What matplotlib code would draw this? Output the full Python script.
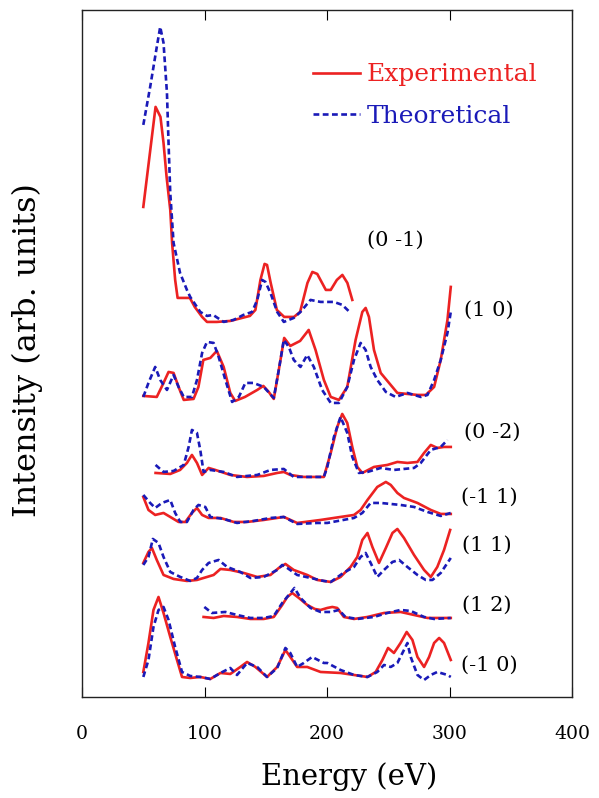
import matplotlib.pyplot as plt
import numpy as np

plt.rcParams['font.family'] = ['DejaVu Serif']

# beam labels and vertical offsets of each stacked I-V curve
beams = ["(0 -1)", "(1 0)", "(0 -2)", "(-1 1)", "(1 1)", "(1 2)", "(-1 0)"]
offsets = [375, 294, 219, 175, 115, 77, 17]

# (0 -1)
exp01_E = [50, 60, 64, 66.5, 69, 72, 73.5, 76, 78, 88, 92, 98, 102, 110, 121, 137, 141.5, 145.6, 149, 151, 154, 159, 165, 173, 178, 184, 188, 192, 199, 203, 208, 212.5, 216.6, 220.6]
exp01_I = [115, 215, 205, 179, 145, 112, 79, 42, 24, 24, 15, 5, 0, 0, 1, 6, 12, 42, 58, 57, 39, 12, 5, 5, 10, 39, 50, 48, 32, 32, 42, 47, 39, 22]
th01_E = [50, 55.6, 61, 63.8, 66.5, 69.3, 70.6, 72, 74.7, 80, 85.6, 88.3, 96.5, 102, 107, 115.6, 123.7, 131.7, 138.8, 143, 147, 149.7, 153.8, 159.3, 164.7, 172.8, 178.3, 186.5, 194.7, 205.6, 212.5, 219.2]
th01_I = [197, 235, 275, 295, 279, 229, 179, 129, 79, 49, 32, 25, 10, 6, 7, 0, 2, 7, 10, 22, 42, 40, 29, 10, 0, 4, 10, 22, 20, 20, 17, 9]

# (1 0)
exp10_E = [50, 61, 66.5, 70.6, 74.7, 78.8, 83, 91, 95, 99, 104.7, 110, 115.6, 121, 125, 133, 143, 148, 152.4, 156.5, 160.6, 165, 170, 178, 185, 190.6, 197.4, 203, 209.7, 216.5, 223.3, 228.8, 231.5, 234.2, 238.3, 243.8, 250.6, 257.4, 265.6, 273.8, 280.6, 287.4, 292.8, 298.3, 301]
exp10_I = [7, 6, 20, 31, 30, 16, 3, 4, 16, 43, 45, 52, 36, 10, 2, 6, 13, 17, 11, 4, 33, 65, 57, 62, 73, 53, 23, 6, 3, 16, 63, 91, 95, 86, 53, 30, 20, 10, 9, 8, 8, 16, 43, 83, 116]
th10_E = [50, 54.2, 59.7, 63.8, 69.3, 74.7, 78.8, 83, 89.7, 93.8, 98, 102, 107.4, 111.5, 117, 122.5, 128, 133.3, 140, 148.3, 156.5, 160.6, 164.7, 168.8, 172.8, 178.3, 183.8, 189.2, 196, 203, 209.7, 216.5, 222, 227.4, 231.5, 235.6, 241, 248, 256, 265.6, 276.5, 282, 287.4, 292.8, 298.3, 301]
th10_I = [6, 20, 36, 23, 13, 28, 16, 6, 6, 23, 50, 61, 60, 46, 23, 1, 6, 20, 20, 16, 5, 33, 63, 56, 43, 36, 48, 36, 13, 0, 0, 16, 43, 60, 53, 36, 23, 11, 6, 10, 6, 8, 23, 43, 70, 91]

# (0 -2)
exp02_E = [60, 72, 80, 85.6, 89.7, 93.8, 98, 103.3, 108.8, 121, 134.7, 148.3, 159.3, 164.7, 170, 181, 197.4, 203, 208.3, 212.4, 216.5, 220.6, 224.7, 228.8, 238.3, 249.2, 257.4, 265.6, 273.8, 279.2, 284.7, 290, 295.5, 301]
exp02_I = [5, 4, 8, 15, 23, 15, 3, 10, 8, 3, 1, 2, 5, 6, 3, 1, 1, 25, 51, 64, 55, 31, 11, 5, 11, 13, 16, 15, 16, 25, 33, 30, 31, 31]
th02_E = [60, 66.5, 74.7, 83, 87, 89.7, 93.8, 96.5, 99.2, 104.7, 115.6, 126.5, 143, 153.8, 164.7, 172.8, 186.5, 197.4, 200.2, 205.6, 211, 216.5, 220.6, 226, 233, 243.8, 254.6, 271, 276.5, 284.7, 292.8, 298.3]
th02_I = [13, 6, 7, 13, 31, 48, 45, 28, 6, 8, 6, 1, 3, 8, 9, 1, 1, 1, 11, 41, 61, 45, 21, 5, 6, 10, 8, 10, 15, 28, 31, 38]

# (-1 1)
exm11_E = [50, 54.2, 59.7, 66.5, 72, 78.8, 84.3, 89.7, 93.8, 98, 103.3, 113, 123.8, 134.7, 148.3, 164.7, 175.6, 194.7, 211, 222, 227.4, 233, 241, 248, 252, 257.4, 262.8, 273.8, 284.7, 292.8, 301]
exm11_I = [25, 12, 7, 9, 5, 0, 0, 9, 14, 7, 4, 4, 0, 0, 2, 5, -1, 2, 5, 7, 12, 22, 35, 40, 37, 29, 24, 19, 12, 8, 8]
thm11_E = [50, 55.6, 59.7, 65.2, 72, 76, 80.2, 85.6, 91, 95, 100.6, 104.7, 115.6, 126.5, 140, 153.8, 164.7, 175.6, 192, 200.2, 222, 228.8, 235.6, 243.8, 260, 271, 282, 292.8, 301]
thm11_I = [27, 19, 14, 19, 22, 9, 0, 0, 12, 17, 15, 5, 3, -1, 1, 4, 5, -2, -1, -1, 4, 9, 19, 19, 17, 15, 10, 6, 9]

# (1 1)
exp11_E = [50, 54.2, 57, 61, 66.5, 74.7, 85.6, 93.8, 102, 107.4, 113, 121, 132, 143, 153.8, 160.6, 166, 172.8, 183.8, 192, 203, 211, 219.2, 224.7, 228.8, 233, 237, 242.4, 248, 253.4, 257.4, 262.8, 271, 279.2, 284.7, 290, 295.5, 300.5]
exp11_I = [19, 30, 34, 22, 7, 3, 1, 2, 5, 7, 13, 12, 9, 5, 7, 14, 18, 12, 7, 2, 0, 5, 15, 25, 42, 49, 35, 19, 34, 49, 53, 44, 27, 12, 5, 15, 32, 52]
th11_E = [50, 54.2, 57.8, 62.4, 66.5, 72, 80.2, 88.3, 93.8, 98, 103.3, 111.5, 118.4, 129.2, 137.4, 148.3, 159.3, 163.4, 167.5, 175.6, 186.5, 197.4, 203, 213.3, 222, 227.4, 231.5, 235.6, 241, 246.5, 253.4, 258.8, 265.6, 273.8, 280.6, 286, 292.8, 301]
th11_I = [17, 25, 43, 39, 25, 10, 5, 1, 4, 12, 19, 22, 15, 10, 4, 5, 12, 17, 14, 7, 4, 1, 0, 9, 15, 25, 29, 19, 5, 12, 20, 22, 15, 7, 2, 2, 9, 24]

# (1 2)
exp12_E = [99.2, 107.4, 115.6, 126.5, 137.4, 148.3, 156.5, 163.4, 167.5, 171.6, 177, 183.8, 190, 194.7, 200.2, 204.3, 208.3, 213.7, 222, 233, 246.5, 260, 271, 282, 301]
exp12_I = [3, 2, 4, 3, 1, 1, 3, 15, 23, 27, 22, 15, 11, 10, 12, 13, 12, 3, 1, 3, 7, 8, 5, 2, 2]
th12_E = [99.8, 106, 117, 126.5, 137.4, 148.3, 156.5, 163.4, 168.8, 173.4, 178.3, 186.5, 194.7, 203, 209.7, 215, 224.7, 238.3, 249.2, 260, 268.3, 279.2, 287.4, 301]
th12_I = [13, 7, 8, 5, 2, 2, 4, 17, 25, 32, 22, 12, 8, 8, 10, 3, 1, 3, 7, 10, 9, 3, 1, 2]

# (-1 0)
exm10_E = [50, 54.2, 58.3, 62.4, 66.5, 72, 77.5, 81.6, 88.3, 96.5, 104.7, 113, 121, 129.2, 134.7, 141.5, 151, 159.3, 166, 170, 175.6, 183.8, 194.7, 211, 222, 233, 239.7, 245.2, 249.8, 254.6, 260, 265, 269.7, 273.8, 279.2, 283.3, 287.4, 291.5, 295.5, 301]
exm10_I = [8, 37, 70, 83, 67, 43, 20, 3, 2, 3, 1, 7, 6, 13, 18, 13, 3, 13, 30, 23, 13, 13, 8, 7, 5, 3, 8, 20, 32, 27, 37, 48, 40, 23, 13, 23, 37, 42, 37, 20]
thm10_E = [50, 54.2, 58.3, 62.4, 66.5, 70.6, 76, 81.6, 88.3, 96.5, 104.7, 113, 121, 126.5, 134.7, 143, 151, 159.3, 166, 170, 175.6, 181, 187.8, 197.4, 200.2, 211, 222, 233, 241, 246.5, 252, 257.4, 262.8, 265.6, 268.3, 273.8, 279.2, 284.7, 290, 298.3, 301]
thm10_I = [3, 20, 53, 70, 73, 60, 33, 8, 4, 3, 1, 7, 12, 5, 17, 13, 3, 12, 32, 27, 13, 17, 23, 17, 17, 10, 5, 3, 8, 15, 13, 17, 30, 37, 23, 5, 0, 5, 8, 5, 3]

exp_E = [exp01_E, exp10_E, exp02_E, exm11_E, exp11_E, exp12_E, exm10_E]
exp_I = [exp01_I, exp10_I, exp02_I, exm11_I, exp11_I, exp12_I, exm10_I]
th_E = [th01_E, th10_E, th02_E, thm11_E, th11_E, th12_E, thm10_E]
th_I = [th01_I, th10_I, th02_I, thm11_I, th11_I, th12_I, thm10_I]

# where the beam labels sit (energy, height)
label_x = [256, 311.5, 311.5, 309, 310.5, 310.5, 309]
label_y = [457, 387, 265, 200, 152, 92, 32]
label_ha = ["center", "left", "left", "left", "left", "left", "left"]

red = "#ec2222"
blue = "#1a1ab8"

fig = plt.figure(figsize=(5.99, 7.98), dpi=100)
ax = fig.add_axes([0.137, 0.1266, 0.818, 0.861])

for k in range(len(beams)):
    ax.plot(exp_E[k], np.array(exp_I[k]) + offsets[k], color=red, lw=1.9,
            label="Experimental" if k == 0 else None)
    ax.plot(th_E[k], np.array(th_I[k]) + offsets[k], color=blue, lw=1.9,
            ls=(0, (2.2, 1.3)), label="Theoretical" if k == 0 else None)
    ax.text(label_x[k], label_y[k], beams[k], ha=label_ha[k], va="center", fontsize=15)

ax.set_xlim(0, 400)
ax.set_ylim(0, 687)
ax.set_xticks([0, 100, 200, 300, 400])
ax.set_yticks([])
ax.tick_params(axis="x", direction="in", top=True, length=7, width=0.8,
               pad=20, labelsize=13.5)
for s in ax.spines.values():
    s.set_linewidth(1.0)
    s.set_color("#222222")

ax.set_xlabel("Energy (eV)", fontsize=21)
ax.xaxis.set_label_coords(0.545, -0.095)
ax.set_ylabel("Intensity (arb. units)", fontsize=23)
ax.yaxis.set_label_coords(-0.08, 0.505)

leg = ax.legend(loc="upper right", bbox_to_anchor=(0.975, 0.955), frameon=False,
                fontsize=18, handlelength=1.9, handletextpad=0.25, labelspacing=0.75,
                labelcolor="linecolor")

fig.savefig("out.png", dpi=100)
